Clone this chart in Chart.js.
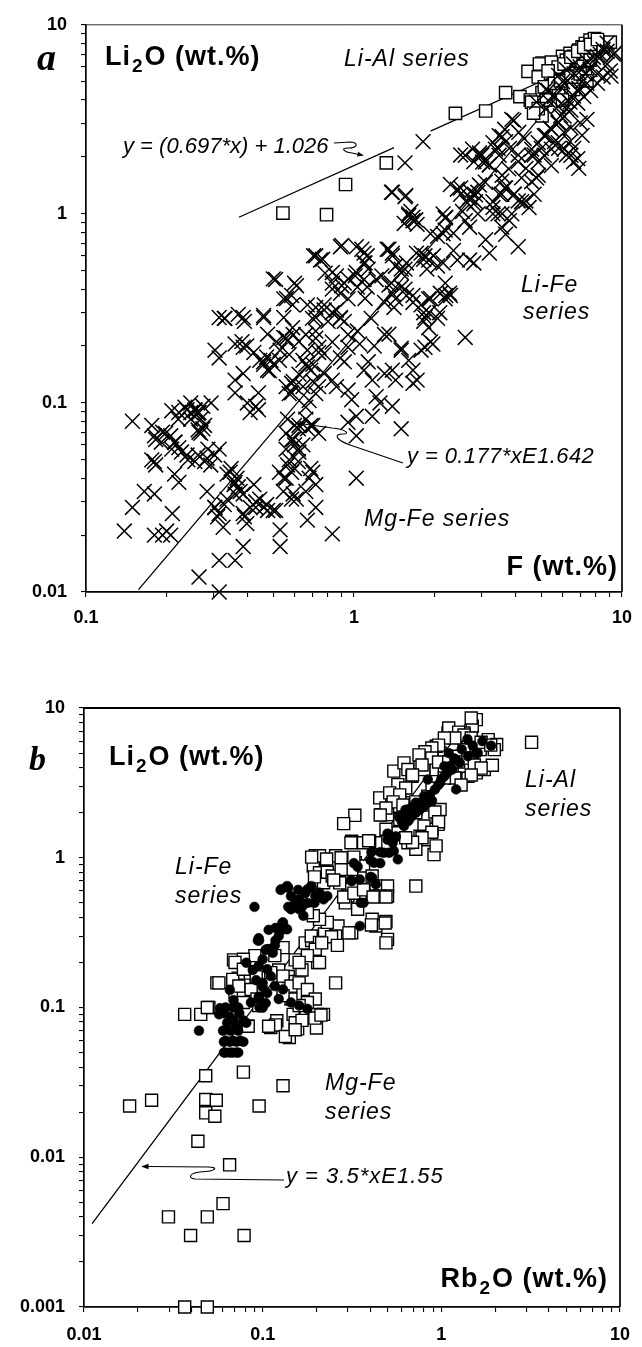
<!DOCTYPE html>
<html><head><meta charset="utf-8">
<script src="https://cdn.jsdelivr.net/npm/chart.js@4/dist/chart.umd.min.js"></script>
<style>
html,body{margin:0;padding:0;background:#fff;}
#wrap{position:relative;width:642px;height:1347px;overflow:hidden;background:#fff;}
canvas{position:absolute;left:0;}
#ca{top:0;} #cb{top:650px;}
</style></head><body>
<div id="wrap"><canvas id="ca" width="642" height="650"></canvas><canvas id="cb" width="642" height="697"></canvas></div>
<script>
const FONT = '"Liberation Sans", Arial, Helvetica, sans-serif';
const SERIF = '"Liberation Serif", "Times New Roman", serif';

// ---------- Panel a : Li2O vs F ----------
const xTickValuesA = [0.1, 1, 10];
const xTickLabelsA = ['0.1', '1', '10'];
const yTickValuesA = [0.01, 0.1, 1, 10];
const yTickLabelsA = ['0.01', '0.1', '1', '10'];

// crosses (Li-Fe / Mg-Fe micas): [F, Li2O]
const crossA = [
[0.149,0.080],[0.139,0.021],[0.149,0.028],[0.165,0.034],[0.18,0.033],
[0.18,0.020],[0.193,0.020],[0.207,0.020],[0.2,0.021],[0.21,0.026],
[0.18,0.049],[0.18,0.067],[0.193,0.07],[0.207,0.067],[0.214,0.062],[0.222,0.058],
[0.214,0.042],[0.222,0.038],[0.222,0.089],
[0.238,0.092],[0.246,0.089],[0.255,0.092],[0.264,0.089],[0.273,0.096],
[0.238,0.053],[0.255,0.049],[0.273,0.073],[0.264,0.07],[0.283,0.051],[0.293,0.1],
[0.314,0.283],[0.303,0.19],[0.314,0.173],[0.314,0.057],[0.314,0.026],[0.314,0.0147],[0.264,0.012],[0.314,0.01],
[0.283,0.034],[0.303,0.028],[0.325,0.022],
[0.336,0.042],[0.348,0.045],[0.36,0.038],[0.36,0.033],[0.37,0.036],[0.386,0.033],
[0.36,0.0147],[0.386,0.0174],[0.386,0.026],[0.41,0.028],[0.43,0.030],[0.46,0.028],[0.476,0.027],[0.51,0.027],[0.53,0.0213],[0.53,0.0174],[0.67,0.024],[0.72,0.028],[0.83,0.0203],
[0.37,0.294],[0.386,0.283],[0.36,0.205],[0.386,0.197],[0.386,0.143],[0.36,0.132],[0.36,0.113],
[0.4,0.1],[0.43,0.096],[0.44,0.092],[0.41,0.089],[0.44,0.113],
[0.46,0.165],[0.476,0.149],[0.49,0.168],[0.476,0.231],[0.46,0.283],[0.547,0.283],
[0.547,0.222],[0.565,0.213],[0.53,0.19],[0.585,0.127],[0.6,0.122],[0.585,0.113],
[0.565,0.082],[0.6,0.076],[0.62,0.073],[0.67,0.073],[0.69,0.076],
[0.585,0.064],[0.6,0.06],[0.62,0.057],[0.565,0.047],[0.585,0.043],[0.6,0.045],[0.547,0.04],[0.62,0.049],[0.69,0.045],[0.585,0.031],
[0.67,0.19],[0.67,0.155],[0.69,0.149],[0.74,0.197],[0.774,0.182],[0.774,0.143],[0.83,0.132],[0.86,0.122],
[0.72,0.283],[0.774,0.31],[0.86,0.31],[0.89,0.283],[0.89,0.173],[0.92,0.165],[0.95,0.197],[0.95,0.117],[0.98,0.104],[1.02,0.085],[0.95,0.079],[1.02,0.067],
[1.05,0.205],[1.09,0.149],[1.13,0.165],[1.02,0.04],[1.17,0.132],[1.21,0.108],[1.25,0.1],[1.17,0.085],[1.3,0.143],[1.35,0.231],[1.39,0.149],[1.43,0.132],[1.39,0.096],[1.5,0.073],[1.5,0.19],
[1.6,0.168],[1.66,0.149],[1.72,0.132],[1.66,0.127],[1.78,0.19],[1.84,0.197],[1.84,0.283],[1.9,0.25],[1.97,0.205],[2.6,0.222],
[1.81,2.41],[1.55,1.86],[1.39,1.3],[1.55,1.23],[1.6,0.98],[1.66,0.92],[1.72,0.88],[2.19,0.95],[2.05,0.76],
[2.43,1.35],[2.5,1.27],[2.7,1.22],[2.9,1.3],[2.8,1.13],[2.5,2.05],[2.8,1.89],[3.0,2.05],[3.2,1.82],[3.45,2.22],
[3.95,3.12],[3.68,2.41],[3.8,2.22],[4.1,2.05],[3.56,1.49],[3.68,1.37],[3.56,1.27],[3.95,1.27],[4.1,1.17],
[3.3,1.08],[3.45,1.0],[3.8,0.92],[3.56,0.85],[3.68,0.78],[3.1,0.73],[4.1,0.67],[3.2,0.62],[2.7,0.57],[2.8,0.55],[2.35,0.64],[2.43,0.57],
[2.19,0.43],[2.27,0.38],[1.9,0.57],[2.05,0.53],[1.78,0.62],[1.84,0.6],[1.9,0.355],[2.19,0.82],[2.35,0.79],[2.6,0.92],[2.7,0.85],[2.9,1.0],
[4.38,1.17],[4.5,1.08],[4.7,1.27],[4.8,1.55],[4.1,1.89],[4.38,1.74],[4.7,2.05],[5.0,2.22],[5.2,2.6],[5.4,2.84],[5.8,3.05],[5.9,3.3],[6.2,3.6],[6.4,3.9],[6.6,4.2],[6.9,4.6],[7.1,5.0],[7.3,5.5],[7.6,5.8],
[7.9,6.3],[8.1,6.8],[8.5,7.4],[8.8,8.0],[9.4,7.1],[9.1,5.35],[5.8,5.4],[6.2,5.8],[6.6,6.2],[6.0,5.0],[6.9,5.6],
[5.6,2.41],[5.8,2.22],[6.2,2.05],[6.4,2.41],[6.6,2.22],[7.1,2.6],[6.6,1.89],[6.9,1.74],[5.2,4.55],[5.6,4.2],[4.8,3.9],[5.2,3.6],
[0.9,0.68],[0.72,0.6],[0.75,0.57],[1.02,0.67],[1.09,0.62],[1.35,0.65],[1.39,0.62],[1.09,0.55],[1.13,0.51],[1.43,0.53],[1.5,0.49],[1.55,0.51],
[0.83,0.49],[0.86,0.47],[0.92,0.43],[0.51,0.45],[0.6,0.43],[0.83,0.4],[0.89,0.38],[0.95,0.355],[1.02,0.49],[1.09,0.45],[0.547,0.355],[0.585,0.37],[0.67,0.33],[0.72,0.32],[0.774,0.33],[0.83,0.3],[0.89,0.28],
[1.21,0.45],[1.35,0.42],[1.39,0.38],[1.43,0.355],[1.55,0.4],[1.66,0.37],[1.78,0.33],[2.1,0.38],[2.19,0.355],[1.9,0.3],[2.05,0.28],
[0.33,0.28],[0.46,0.29],
[1.38,1.3],[1.56,1.25],[1.6,1.0],[1.66,0.96],[1.7,0.93],[1.54,0.89],[2.2,0.96],[2.15,0.785],[1.93,0.785],
[0.89,0.67],[0.707,0.6],[0.764,0.575],[1.07,0.65],[1.12,0.6],[1.1,0.55],[1.33,0.65],[1.39,0.6],[1.43,0.53],[1.5,0.51],[1.57,0.55],
[1.71,0.62],[1.82,0.575],[1.98,0.6],[2.15,0.55],[1.87,0.51],[1.93,0.357],[2.29,0.37],
[0.5,0.453],[0.61,0.417],[0.56,0.357],[0.59,0.33],
[0.78,0.486],[0.83,0.43],[0.9,0.417],[0.95,0.453],[1.01,0.47],[1.03,0.41],[1.12,0.41],[1.1,0.357],
[1.27,0.47],[1.38,0.43],[1.5,0.41],[1.57,0.37],[1.3,0.34],[1.41,0.32],[1.66,0.34],[1.82,0.3],[2.09,0.3],[2.2,0.37],
[0.328,0.28],[0.39,0.27],[0.59,0.25],[0.7,0.28],[0.72,0.24],[0.8,0.27],[0.83,0.21],[0.92,0.27],[0.95,0.23],[1.03,0.24],[1.16,0.28],[1.19,0.2],[1.3,0.23],[1.5,0.195],[1.82,0.27],[1.93,0.21],
[2.6,2.04],[2.94,2.1],[3.02,1.88],[3.2,1.81],[3.37,2.2],[3.48,2.04],[3.57,2.56],[2.29,1.43],[2.5,1.37],[2.72,1.31],[2.84,1.26],[3.09,1.47],[2.62,1.16],[1.63,1.03],[2.15,1.0],[2.54,1.03],[3.3,1.0],[3.57,1.0],
[0.382,0.211],[0.398,0.2],[0.423,0.185],[0.445,0.168],[0.472,0.175],[0.46,0.16],[0.484,0.148],[0.5,0.16],[0.527,0.168],[0.514,0.211],[0.558,0.22],[0.593,0.23],[0.623,0.211],[0.573,0.18],[0.645,0.168],[0.661,0.16],[0.702,0.16],[0.738,0.185],[0.72,0.22],[0.661,0.23],[0.623,0.142],[0.593,0.13],[0.558,0.122],[0.573,0.112],[0.645,0.122],[0.702,0.13],
[0.209,0.091],[0.234,0.095],[0.246,0.1],[0.255,0.091],[0.262,0.088],[0.268,0.082],[0.246,0.082],[0.277,0.076],[0.262,0.072],[0.268,0.069],[0.221,0.082],[0.198,0.069],[0.182,0.064],[0.176,0.076],[0.215,0.062],[0.191,0.062],[0.209,0.057],[0.227,0.055],[0.24,0.05],[0.262,0.053],[0.277,0.049],[0.176,0.05],[0.182,0.047],
[0.285,0.057],[0.302,0.053],[0.292,0.047],
[0.345,0.043],[0.366,0.04],[0.357,0.037],[0.376,0.034],[0.336,0.031],[0.328,0.029],[0.302,0.028],[0.31,0.025],
[0.423,0.037],[0.445,0.031],[0.472,0.029],[0.5,0.027],[0.43,0.028],[0.39,0.025],[0.398,0.023],
[0.527,0.043],[0.558,0.04],[0.545,0.034],[0.593,0.033],[0.609,0.031],[0.661,0.034],[0.68,0.04],[0.702,0.043],[0.72,0.037],
[0.558,0.069],[0.593,0.064],[0.623,0.076],[0.661,0.082],[0.702,0.076],[0.738,0.069],[0.645,0.06],[0.623,0.055],[0.558,0.057],[0.573,0.05],
[0.68,0.103],[0.72,0.112],[0.738,0.122],[0.661,0.095],
[5.3,4.49],[5.6,4.17],[5.9,4.7],[6.27,5.05],[6.62,5.5],[6.98,5.98],[7.4,6.4],[7.82,6.74],[8.3,6.98],[8.8,7.24],[9.3,6.98],[9.04,5.7],[8.5,5.3],[8.1,4.9],[7.64,4.49],[7.2,4.17],[6.84,3.85],[6.45,3.54],[6.08,3.29],[5.78,3.03],[5.45,2.8],[5.13,2.59],[4.87,2.38],[4.6,2.2],[5.3,3.98],[5.78,3.7],[6.27,3.98],[6.84,4.49],[7.4,4.9],[8.1,5.5],[8.8,6.2],
[2.77,2.2],[2.94,2.04],[3.09,1.88],[3.3,2.38],[3.48,2.59],[3.65,2.8],[3.88,3.16],[4.12,2.7],[4.32,2.5],[4.6,2.04],[4.87,1.88],[5.13,2.04],[5.45,2.2],[5.78,2.38],[6.08,2.2],[6.45,2.04],[6.84,1.96],[5.45,1.8],[4.87,1.6],[4.6,1.48],[4.22,1.55],[3.78,1.73],[3.57,1.6],[3.65,1.37],[3.48,1.27],[3.3,1.16],[3.97,1.27],[4.22,1.16],[3.88,1.0],[2.94,1.42],[2.84,1.16],[6.08,2.7],[6.45,2.85],[6.98,3.03],[7.4,3.16],[5.78,3.03]
];

// squares (Li-Al micas): [F, Li2O]
const squareA = [
[0.543,1.01],[0.79,0.99],[0.93,1.43],[1.32,1.86],[2.39,3.4],[3.1,3.5],[3.68,4.38],[4.16,4.17],[4.46,5.67],[4.7,3.6],[4.85,3.45],
[5.03,6.28],[5.2,6.03],[5.4,5.8],[5.6,6.03],[5.8,6.28],[6.0,6.8],[6.2,6.5],[6.4,7.06],[6.6,6.8],[6.9,7.35],[7.1,7.65],[7.3,7.96],[7.6,8.3],[7.9,8.46],[8.1,7.96],[8.5,7.65],
[5.03,4.38],[5.2,4.0],[5.4,4.75],[4.55,4.0],[4.7,3.87],[5.03,3.3],[6.2,5.35],[6.4,4.9],[6.6,4.55],[5.8,4.38],[6.0,4.0],[7.1,6.03],[7.3,5.57],[7.6,6.5],
[4.6,3.9],[4.87,3.6],[4.68,3.41],[4.92,6.2],[5.45,6.35],[5.78,5.98],[6.08,6.2],[6.45,6.74],[6.84,7.24],[7.2,7.6],[7.64,7.88],[8.1,8.36],[9.04,8.1],
[4.87,5.3],[5.3,5.7],[5.13,4.7],[5.6,4.9],[5.9,5.05],[6.45,5.3],[6.98,5.5],[7.4,5.05]
];

// regression lines, end points (null = gap)
const fitLiAlA = [[0.372,0.96],[1.41,2.24],null,[1.93,2.74],[8.5,7.05]];
const fitFeA = [[0.157,0.0103],[7.5,6.5]];

// ---------- Panel b : Li2O vs Rb2O ----------
const xTickValuesB = [0.01, 0.1, 1, 10];
const xTickLabelsB = ['0.01', '0.1', '1', '10'];
const yTickValuesB = [0.001, 0.01, 0.1, 1, 10];
const yTickLabelsB = ['0.001', '0.01', '0.1', '1', '10'];

// open squares: [Rb2O, Li2O]
const squareB = [
[0.0366,0.09],[0.045,0.09],[0.05,0.1],[0.018,0.022],[0.0239,0.024],[0.048,0.035],[0.078,0.037],[0.13,0.03],[0.048,0.0243],[0.055,0.024],[0.048,0.0198],[0.054,0.0188],[0.0955,0.022],[0.0434,0.0128],[0.0653,0.0089],[0.06,0.0049],[0.0297,0.004],[0.049,0.004],[0.0395,0.003],[0.0787,0.003],[0.0366,0.001],[0.049,0.001],
[0.111,0.0735],[0.12,0.0815],[0.148,0.09],[0.155,0.079],[0.157,0.072],[0.175,0.093],[0.202,0.09],[0.219,0.09],[0.2,0.073],[0.141,0.063],[0.082,0.075],
[0.0554,0.146],[0.049,0.1],[0.0687,0.208],[0.0897,0.208],[0.073,0.157],[0.079,0.141],[0.07,0.127],[0.078,0.116],[0.092,0.16],[0.123,0.178],[0.131,0.149],[0.139,0.161],[0.152,0.149],[0.166,0.178],[0.152,0.208],[0.173,0.27],[0.188,0.28],[0.203,0.2],[0.222,0.31],[0.118,0.0765],[0.108,0.075],[0.134,0.064],[0.152,0.079],[0.166,0.082],[0.196,0.085],[0.212,0.089],[0.152,0.071],[0.083,0.075],
[0.452,2.51],[0.464,1.94],[0.542,3.79],[0.618,4.3],[0.65,3.88],[0.685,3.5],[0.571,3.08],[0.514,2.71],[0.586,2.58],[0.618,2.33],[0.542,2.21],[0.5,1.94],[0.586,1.8],[0.65,2.0],[0.72,2.1],[0.8,2.33],[0.84,2.58],[0.887,3.08],[0.935,3.5],[0.984,2.1],[0.96,1.67],[0.887,1.55],[0.8,1.63],[0.72,2.0],[0.76,1.39],[0.84,1.32],[0.72,1.14],[0.91,1.05],[0.935,1.2],[0.65,1.26],[0.571,1.47],[0.49,1.55],[0.43,1.26],[0.397,1.29],[0.315,1.29],[0.33,0.926],[0.3,0.975],[0.256,1.03],[0.219,0.975],[0.197,1.03],[0.192,0.88],[0.208,0.794],[0.219,0.681],[0.256,0.737],[0.284,0.88],[0.315,0.836],[0.367,0.88],[0.41,0.755],[0.43,0.647],[0.41,0.555],[0.5,0.647],[0.5,0.555],[0.452,0.555],[0.367,0.615],[0.3,0.555],[0.29,0.5],[0.34,0.453],[0.41,0.388],[0.49,0.375],[0.5,0.285],[0.43,0.35],[0.315,0.316],[0.264,0.35],[0.256,0.3],[0.23,0.37],[0.208,0.388],[0.192,0.41],[0.178,0.43],[0.187,0.3],[0.208,0.272],[0.197,0.245],[0.178,0.222],[0.16,0.2],[0.208,0.2],[0.256,0.146],[0.13,0.251],[0.117,0.222],[0.111,0.171],[0.13,0.162],[0.144,0.139],[0.16,0.146],[0.178,0.132],[0.197,0.114],[0.178,0.108],[0.16,0.103],[0.144,0.114],[0.13,0.12],[0.0905,0.222],[0.078,0.21],[0.07,0.2],[0.068,0.154],[0.0736,0.139],[0.078,0.108],[0.0862,0.132],[0.093,0.114],[0.095,0.103],[0.0569,0.146],[0.078,0.18],
[0.208,1.03],[0.23,0.8],[0.245,0.755],[0.275,0.836],[0.27,0.68],[0.72,0.647],
[0.188,1.01],[0.228,0.98],[0.275,1.0],[0.324,1.01],[0.367,1.26],[0.392,1.3],[0.312,1.26],
[0.195,0.745],[0.25,0.71],[0.284,0.547],[0.324,0.58],[0.367,0.61],[0.415,0.547],[0.49,0.547],
[0.485,0.367],[0.406,0.356],[0.49,0.27],[0.304,0.315],[0.243,0.297],[0.214,0.27],[0.262,0.26],
[0.328,1.92],[0.284,1.69],
[1.57,8.36],[1.49,7.55],[1.34,6.81],[1.21,6.47],[1.09,6.81],[1.83,6.15],[2.04,5.7],[1.98,5.27],[1.65,5.27],[1.49,5.0],[1.34,5.27],[1.21,4.76],[1.09,4.3],[0.984,5.0],[0.935,5.55],[0.887,4.52],[0.76,4.3],[0.8,3.88],[0.935,3.88],[1.04,3.69],[1.21,3.69],[1.41,3.5],[1.57,3.69],[1.74,3.88],[1.34,4.08],[1.15,4.08],[1.93,4.15],[3.2,5.9],
[1.1,7.35],[1.25,6.9],[1.34,6.6],[1.47,6.3],[1.67,5.9],[1.89,5.65],[1.19,6.3],[1.04,6.3],[0.965,5.65],[0.885,5.4],[0.81,5.1],[0.75,4.86],[0.885,4.63],[0.965,4.36],[1.1,4.36],[1.25,4.36],[1.41,4.63],[1.53,4.16],[1.67,3.97],[1.47,3.57],[1.19,3.41],[1.29,3.06],[1.04,3.41],[0.78,4.16],[0.69,3.57],[0.632,2.92],[0.585,2.63],[0.537,2.36],[0.49,2.15],[0.455,1.93],[0.61,2.25],[0.72,2.36],[0.85,2.25],[0.92,2.02],[0.965,1.74],[0.885,1.48],[0.78,1.36],[0.69,1.27],[0.632,1.36],[1.47,8.58]
];

// filled circles: [Rb2O, Li2O]
const dotB = [
[0.044,0.07],[0.06,0.07],[0.066,0.07],[0.073,0.07],[0.062,0.06],[0.068,0.06],[0.075,0.06],[0.062,0.05],[0.068,0.05],[0.073,0.05],[0.057,0.09],[0.062,0.1],[0.068,0.1],[0.073,0.1],[0.096,0.1],
[0.0955,0.28],[0.104,0.243],[0.114,0.232],[0.118,0.28],[0.128,0.33],
[0.081,0.199],[0.088,0.178],[0.092,0.152],[0.1,0.137],[0.095,0.118],[0.104,0.107],[0.1,0.1],
[0.0655,0.131],[0.0687,0.112],[0.0714,0.1],[0.074,0.0915],[0.0655,0.0865],[0.0607,0.0915],[0.0577,0.099],[0.0687,0.082],[0.078,0.082],[0.0633,0.079],[0.0714,0.075],[0.081,0.079],
[0.0607,0.059],[0.0655,0.059],[0.0714,0.059],[0.078,0.059],[0.0607,0.05],[0.0655,0.05],[0.0714,0.05],
[0.09,0.47],[0.095,0.29],[0.127,0.615],[0.137,0.647],[0.144,0.555],[0.153,0.5],[0.16,0.527],[0.178,0.615],[0.187,0.647],[0.197,0.555],[0.208,0.585],[0.219,0.527],[0.23,0.555],[0.144,0.453],[0.16,0.453],[0.178,0.5],[0.169,0.41],[0.13,0.37],[0.137,0.333],[0.123,0.3],[0.117,0.26],[0.106,0.245],[0.1,0.21],[0.095,0.19],[0.106,0.18],[0.111,0.162],[0.1,0.146],[0.117,0.139],[0.13,0.132],[0.106,0.125],[0.095,0.114],[0.086,0.108],[0.123,0.114],[0.144,0.108],[0.16,0.103],[0.178,0.098],
[0.315,0.697],[0.35,0.716],[0.41,0.737],[0.43,0.665],[0.367,0.5],[0.35,0.35],[0.42,0.926],[0.476,1.08],[0.542,1.11],[0.571,0.975],[0.5,1.32],[0.556,1.39],[0.618,1.63],[0.65,1.75],[0.685,1.9],[0.72,2.0],[0.76,2.1],[0.8,2.21],[0.84,2.33],[0.887,2.4],[0.8,2.58],[0.72,2.33],[0.65,2.1],[0.618,1.9],[1.21,2.86],[0.984,3.17],[1.04,3.5],[1.15,3.88],[1.27,4.3],[1.41,4.76],[1.57,5.0],[1.04,4.08],[1.21,4.52],[0.84,3.33],
[0.126,0.61],[0.139,0.63],[0.158,0.61],[0.173,0.58],[0.188,0.63],[0.152,0.52],[0.139,0.47],[0.166,0.47],[0.214,0.55],[0.195,0.5],[0.312,0.71],[0.354,0.5],[0.402,0.745],[0.455,0.92],[0.402,0.96],[0.34,0.87],[0.324,0.92],[0.406,1.09],[0.455,1.09],[0.51,1.08],[0.535,1.26],[0.555,1.37],[0.58,1.87],[0.63,2.09],[0.69,2.19],[0.75,2.32],[0.108,0.33],[0.094,0.28],[0.118,0.34],[0.129,0.367],[0.108,0.245],
[0.5,1.45],[0.6,1.75],[0.7,2.05],[0.78,2.3],[0.86,2.62],[0.92,2.85],[0.96,3.05],[1.0,3.35],[1.08,3.7],[1.12,4.1],[1.18,4.6],[0.66,1.8],[0.74,2.15],[0.83,2.45],
[1.3,5.3],[1.5,5.6],[1.7,6.0],[1.9,5.6],[1.1,5.0],[1.4,6.2],[1.6,5.0]
];

const fitB = [[0.0111,0.0036],[1.45,8.6]];

// ---------- helpers ----------
const pts = arr => arr.map(p => p ? ({x: p[0], y: p[1]}) : ({x: NaN, y: null}));

function logTicks(min, max) {
  const out = [];
  for (let e = Math.floor(Math.log10(min)); e <= Math.ceil(Math.log10(max)); e++) {
    for (let m = 1; m <= 9; m++) {
      const v = +(m * Math.pow(10, e)).toPrecision(6);
      if (v >= min * 0.999999 && v <= max * 1.000001) out.push({value: v, major: m === 1});
    }
  }
  return out;
}
function labeler(values, labels) {
  return function (v) {
    for (let i = 0; i < values.length; i++) if (Math.abs(values[i] - v) / values[i] < 1e-6) return labels[i];
    return '';
  };
}
function segW(ctx, s, sp) { let w = 0; for (const ch of s) w += ctx.measureText(ch).width + sp; return w - sp; }
function drawSeg(ctx, s, x, y, sp) { for (const ch of s) { ctx.fillText(ch, x, y); x += ctx.measureText(ch).width + sp; } return x - sp; }
function text(ctx, s, x, y, font, sp, align) {
  ctx.font = font;
  const w = segW(ctx, s, sp);
  drawSeg(ctx, s, align === 'right' ? x - w : x, y, sp);
}
function chem(ctx, parts, x, y, size, sp, align) {
  const main = 'bold ' + size + 'px ' + FONT, sub = 'bold ' + Math.round(size * 0.7) + 'px ' + FONT;
  let total = 0;
  parts.forEach((p, i) => { ctx.font = p[1] ? sub : main; total += segW(ctx, p[0], sp) + (i < parts.length - 1 ? sp + 1 : 0); });
  let cx = align === 'right' ? x - total : x;
  parts.forEach(p => { ctx.font = p[1] ? sub : main; cx = drawSeg(ctx, p[0], cx, p[1] ? y + 7 : y, sp) + sp + 1; });
}
function head(ctx, x, y, fx, fy, len) {
  const a = Math.atan2(y - fy, x - fx);
  ctx.beginPath();
  ctx.moveTo(x, y);
  ctx.lineTo(x - len * Math.cos(a - 0.35), y - len * Math.sin(a - 0.35));
  ctx.lineTo(x - len * Math.cos(a + 0.35), y - len * Math.sin(a + 0.35));
  ctx.closePath(); ctx.fill();
}

function scales(xmin, xmax, ymin, ymax, xv, xl, yv, yl, xH, yW, xPad) {
  const common = {
    type: 'logarithmic',
    grid: {drawOnChartArea: false, drawTicks: true, tickLength: 5, color: '#000', lineWidth: 1.1},
    border: {display: true, color: '#000', width: 1.7},
  };
  return {
    x: Object.assign({}, common, {
      min: xmin, max: xmax, position: 'bottom',
      afterBuildTicks: s => { s.ticks = logTicks(xmin, xmax); },
      afterFit: s => { s.height = xH; },
      ticks: {autoSkip: false, maxRotation: 0, minRotation: 0, padding: xPad, color: '#000',
        font: {family: FONT, size: 18, weight: 'bold'}, callback: labeler(xv, xl)}
    }),
    y: Object.assign({}, common, {
      min: ymin, max: ymax, position: 'left',
      afterBuildTicks: s => { s.ticks = logTicks(ymin, ymax); },
      afterFit: s => { s.width = yW; },
      ticks: {autoSkip: false, padding: 14, color: '#000',
        font: {family: FONT, size: 18, weight: 'bold'}, callback: labeler(yv, yl)}
    })
  };
}

function frame(topW, topColor) {
  return {
    id: 'frame',
    afterDraw(chart) {
      const {ctx, chartArea: a} = chart;
      ctx.save();
      ctx.strokeStyle = '#000'; ctx.lineWidth = 1.7;
      ctx.beginPath(); ctx.moveTo(a.right, a.top); ctx.lineTo(a.right, a.bottom); ctx.stroke();
      ctx.strokeStyle = topColor; ctx.lineWidth = topW;
      ctx.beginPath(); ctx.moveTo(a.left, a.top); ctx.lineTo(a.right, a.top); ctx.stroke();
      ctx.restore();
    }
  };
}

const baseOpts = {
  responsive: false, animation: false, events: [],
  plugins: {legend: {display: false}, tooltip: {enabled: false}}
};

// ---------- chart a ----------
new Chart(document.getElementById('ca'), {
  type: 'scatter',
  data: {datasets: [
    {data: pts(crossA), pointStyle: 'crossRot', pointRadius: 10.5, borderColor: '#000', borderWidth: 1.5, clip: false, order: 0},
    {data: pts(squareA), pointStyle: 'rect', pointRadius: 8.7, borderColor: '#000', backgroundColor: '#fff', borderWidth: 1.4, clip: false, order: 1},
    {data: pts(fitLiAlA), showLine: true, spanGaps: false, pointRadius: 0, borderColor: '#000', borderWidth: 1.3, order: 2},
    {data: pts(fitFeA), showLine: true, pointRadius: 0, borderColor: '#000', borderWidth: 1.3, order: 2}
  ]},
  options: Object.assign({}, baseOpts, {
    layout: {padding: {left: 0, right: 11, top: 14, bottom: 0}},
    scales: scales(0.1, 10, 0.01, 10, xTickValuesA, xTickLabelsA, yTickValuesA, yTickLabelsA, 58, 86, 10)
  }),
  plugins: [frame(1, '#333'), {
    id: 'annA',
    afterDatasetsDraw(chart) {
      const ctx = chart.ctx;
      ctx.save(); ctx.fillStyle = '#000'; ctx.strokeStyle = '#000'; ctx.textBaseline = 'alphabetic';
      text(ctx, 'a', 37, 70, 'bold italic 38px ' + SERIF, 0);
      chem(ctx, [['Li', false], ['2', true], ['O (wt.%)', false]], 105, 65, 27, 1);
      const it = 'italic 23px ' + FONT;
      text(ctx, 'Li-Al series', 344, 66, it, 1);
      text(ctx, 'Li-Fe', 521, 292, it, 1);
      text(ctx, 'series', 523, 319, it, 1);
      text(ctx, 'Mg-Fe series', 364, 526, it, 1);
      const eq = 'italic 22px ' + FONT;
      text(ctx, 'y = (0.697*x) + 1.026', 123, 153, eq, 0);
      text(ctx, 'y = 0.177*xE1.642', 407, 463, eq, 0.4);
      chem(ctx, [['F (wt.%)', false]], 617, 575, 27, 1, 'right');
      ctx.lineWidth = 1.1;
      ctx.beginPath(); ctx.moveTo(334, 143); ctx.lineTo(350, 142);
      ctx.bezierCurveTo(359, 142, 358, 148, 348, 148);
      ctx.bezierCurveTo(340, 148, 344, 152, 352, 153);
      ctx.lineTo(361, 155); ctx.stroke();
      head(ctx, 364, 155.5, 352, 153, 7);
      ctx.beginPath(); ctx.moveTo(403, 463); ctx.lineTo(350, 445);
      ctx.bezierCurveTo(336, 440, 333, 434, 343, 434);
      ctx.bezierCurveTo(351, 434, 345, 429, 332, 428);
      ctx.lineTo(300, 423.5); ctx.stroke();
      head(ctx, 296, 423, 332, 428, 7);
      ctx.restore();
    }
  }]
});

// ---------- chart b ----------
new Chart(document.getElementById('cb'), {
  type: 'scatter',
  data: {datasets: [
    {data: pts(dotB), pointStyle: 'circle', pointRadius: 4.9, borderColor: '#000', backgroundColor: '#000', borderWidth: 0.5, clip: false, order: 0},
    {data: pts(squareB), pointStyle: 'rect', pointRadius: 8.5, borderColor: '#000', backgroundColor: '#fff', borderWidth: 1.4, clip: false, order: 1},
    {data: pts(fitB), showLine: true, pointRadius: 0, borderColor: '#000', borderWidth: 1.3, order: 2}
  ]},
  options: Object.assign({}, baseOpts, {
    layout: {padding: {left: 0, right: 11, top: 58, bottom: 0}},
    scales: scales(0.01, 10, 0.001, 10, xTickValuesB, xTickLabelsB, yTickValuesB, yTickLabelsB, 40, 84, 12)
  }),
  plugins: [frame(1.8, '#000'), {
    id: 'annB',
    afterDatasetsDraw(chart) {
      const ctx = chart.ctx;
      ctx.save(); ctx.fillStyle = '#000'; ctx.strokeStyle = '#000'; ctx.textBaseline = 'alphabetic';
      text(ctx, 'b', 29, 120, 'bold italic 34px ' + SERIF, 0);
      chem(ctx, [['Li', false], ['2', true], ['O (wt.%)', false]], 109, 115, 27, 1);
      const it = 'italic 23px ' + FONT;
      text(ctx, 'Li-Al', 525, 137, it, 1);
      text(ctx, 'series', 525, 166, it, 1);
      text(ctx, 'Li-Fe', 175, 224, it, 1);
      text(ctx, 'series', 175, 253, it, 1);
      text(ctx, 'Mg-Fe', 325, 440, it, 1);
      text(ctx, 'series', 325, 469, it, 1);
      chem(ctx, [['Rb', false], ['2', true], ['O (wt.%)', false]], 607, 637, 27, 1, 'right');
      text(ctx, 'y = 3.5*xE1.55', 286, 533, 'italic 22px ' + FONT, 1);
      ctx.lineWidth = 1.1;
      ctx.beginPath(); ctx.moveTo(284, 530); ctx.lineTo(195, 529);
      ctx.bezierCurveTo(187, 528, 190, 523, 200, 522);
      ctx.bezierCurveTo(218, 521, 218, 517, 208, 517);
      ctx.lineTo(148, 516.5); ctx.stroke();
      head(ctx, 141, 516.5, 160, 516.5, 8);
      ctx.restore();
    }
  }]
});
</script>
</body></html>
